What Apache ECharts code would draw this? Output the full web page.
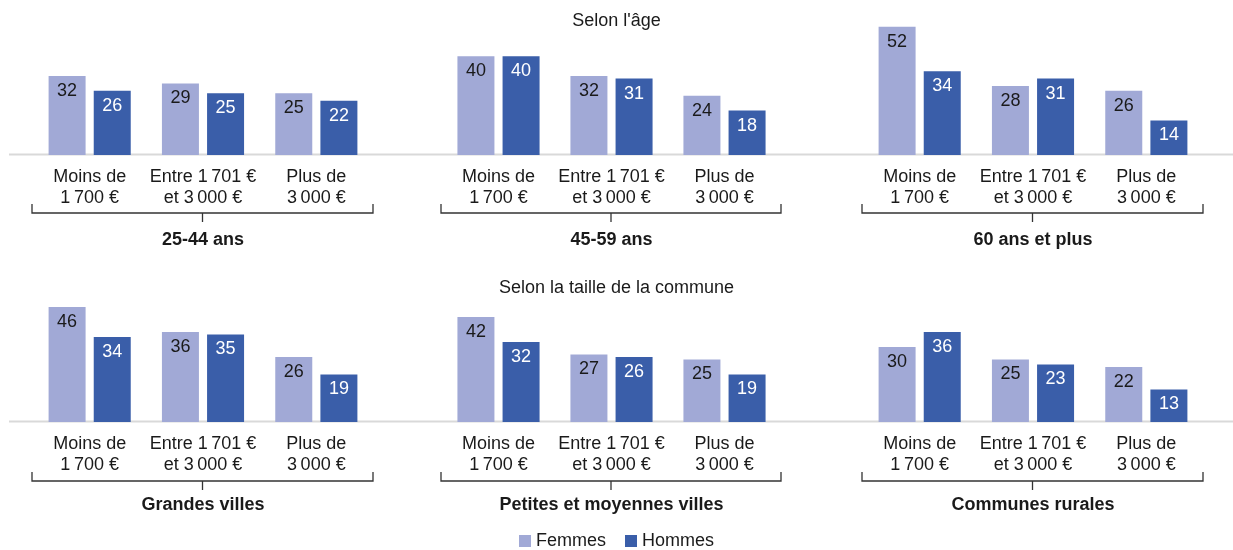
<!DOCTYPE html>
<html>
<head>
<meta charset="utf-8">
<script src="https://cdn.jsdelivr.net/npm/echarts@6/dist/echarts.min.js"></script>
<style>
    html, body { margin: 0; padding: 0; background: #fff; }
    #chart { width: 1233px; height: 550px; }
</style>
</head>
<body>
<div id="chart"></div>
<script>
// catégories de revenu (x)
var categories = ['Moins de\n1\u202f700 €', 'Entre 1\u202f701 €\net 3\u202f000 €', 'Plus de\n3\u202f000 €'];

// selon l'âge
var ageGroups = ['25-44 ans', '45-59 ans', '60 ans et plus'];
var femmesAge = [[32, 29, 25], [40, 32, 24], [52, 28, 26]];
var hommesAge = [[26, 25, 22], [40, 31, 18], [34, 31, 14]];

// selon la taille de la commune
var communeGroups = ['Grandes villes', 'Petites et moyennes villes', 'Communes rurales'];
var femmesCommune = [[46, 36, 26], [42, 27, 25], [30, 25, 22]];
var hommesCommune = [[34, 35, 19], [32, 26, 19], [36, 23, 13]];

var FONT = '"Liberation Sans", Arial, Helvetica, sans-serif';
var colorF = '#a1a9d6';
var colorH = '#3a5ea9';

// mise en page des panneaux
var panelLeft = [33, 442, 863];
var panelWidth = [340, 339, 340];
var rowTop = [7, 272];
var rowHeight = [148, 150];

var grids = [], xAxes = [], yAxes = [], series = [], graphics = [];

function addRow(row, groups, femmes, hommes) {
    for (var p = 0; p < 3; p++) {
        var idx = grids.length;
        grids.push({
            left: panelLeft[p],
            width: panelWidth[p],
            top: rowTop[row],
            height: rowHeight[row]
        });
        xAxes.push({
            type: 'category',
            gridIndex: idx,
            data: categories,
            axisLine: {show: false},
            axisTick: {show: false},
            axisLabel: {
                margin: 12,
                fontSize: 18,
                lineHeight: 21,
                color: '#1a1a1a',
                fontFamily: FONT,
                interval: 0
            },
            name: groups[p],
            nameLocation: 'middle',
            nameGap: row === 0 ? 76 : 74,
            nameTextStyle: {
                fontSize: 18,
                fontWeight: 'bold',
                color: '#1a1a1a',
                fontFamily: FONT
            }
        });
        yAxes.push({
            type: 'value',
            gridIndex: idx,
            min: 0,
            max: 60,
            show: false,
            splitLine: {show: false}
        });
        series.push({
            name: 'Femmes',
            type: 'bar',
            xAxisIndex: idx,
            yAxisIndex: idx,
            data: femmes[p],
            barWidth: 37,
            barGap: '22%',
            itemStyle: {color: colorF},
            label: {
                show: true,
                position: 'insideTop',
                distance: 6,
                fontSize: 18,
                color: '#1a1a1a',
                fontFamily: FONT
            },
            z: 3
        });
        series.push({
            name: 'Hommes',
            type: 'bar',
            xAxisIndex: idx,
            yAxisIndex: idx,
            data: hommes[p],
            barWidth: 37,
            barGap: '22%',
            itemStyle: {color: colorH},
            label: {
                show: true,
                position: 'insideTop',
                distance: 6,
                fontSize: 18,
                color: '#ffffff',
                fontFamily: FONT
            },
            z: 3
        });

        // accolade sous les catégories
        var base = rowTop[row] + rowHeight[row];
        var by = base + (row === 0 ? 58 : 59);
        var x1 = panelLeft[p] - 1, x2 = panelLeft[p] + panelWidth[p];
        var xm = (x1 + x2) / 2;
        graphics.push({
            type: 'polyline',
            shape: {points: [[x1, by - 9], [x1, by], [x2, by], [x2, by - 9]]},
            style: {stroke: '#333', lineWidth: 1.3, fill: null}
        });
        graphics.push({
            type: 'line',
            shape: {x1: xm, y1: by, x2: xm, y2: by + 9},
            style: {stroke: '#333', lineWidth: 1.3}
        });
    }
    // ligne de base
    var y0 = rowTop[row] + rowHeight[row] - 0.5;
    graphics.push({
        type: 'line',
        z: -1,
        shape: {x1: 9, y1: y0, x2: 1233, y2: y0},
        style: {stroke: '#d9d9d9', lineWidth: 2}
    });
}

addRow(0, ageGroups, femmesAge, hommesAge);
addRow(1, communeGroups, femmesCommune, hommesCommune);

var chart = echarts.init(document.getElementById('chart'));
var option = {
    animation: false,
    textStyle: {fontFamily: FONT},
    title: [
        {
            text: "Selon l'âge",
            left: 'center',
            top: 12,
            padding: 0,
            textStyle: {fontSize: 18, fontWeight: 'normal', color: '#1a1a1a', fontFamily: FONT}
        },
        {
            text: 'Selon la taille de la commune',
            left: 'center',
            top: 279,
            padding: 0,
            textStyle: {fontSize: 18, fontWeight: 'normal', color: '#1a1a1a', fontFamily: FONT}
        }
    ],
    legend: {
        data: ['Femmes', 'Hommes'],
        left: 'center',
        top: 532,
        padding: 0,
        icon: 'rect',
        itemWidth: 12,
        itemHeight: 12,
        itemGap: 19,
        textStyle: {fontSize: 18, color: '#1a1a1a', fontFamily: FONT}
    },
    grid: grids,
    xAxis: xAxes,
    yAxis: yAxes,
    series: series,
    graphic: graphics
};
chart.setOption(option);
</script>
</body>
</html>
